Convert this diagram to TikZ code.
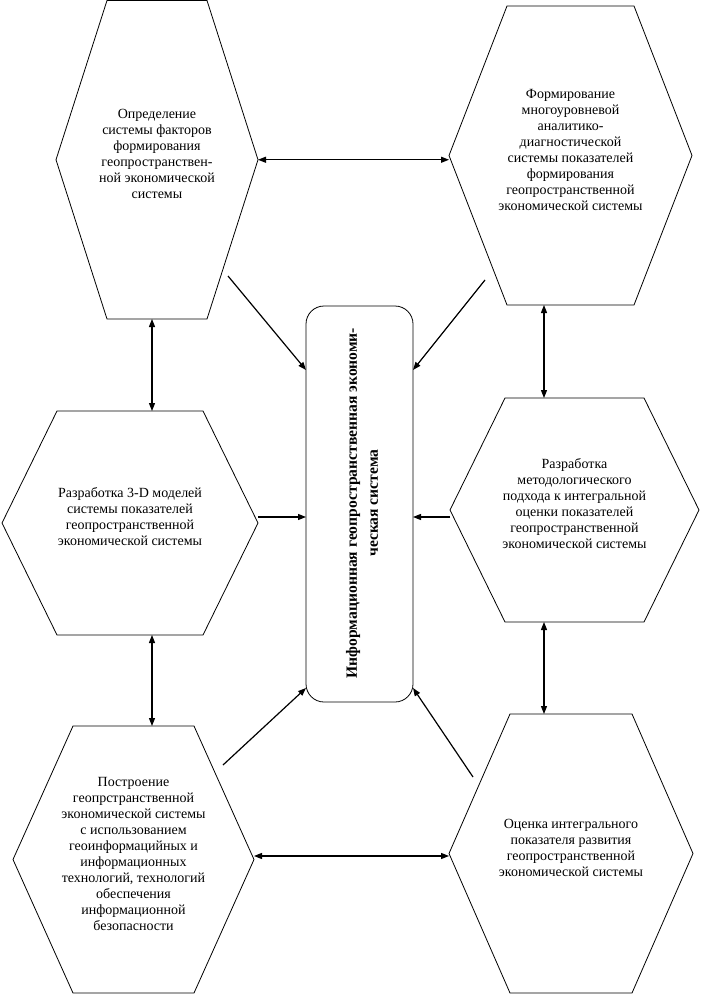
\documentclass[tikz,border=0pt]{standalone}
\usepackage{fontspec}
\setmainfont{Liberation Serif}
\usetikzlibrary{arrows.meta,fit,calc}
% name, left, top, right, bottom, inset, text
\newcommand\hexa[7]{%
  \node[frame, fit={(#2,#3) (#4,#5)}] (#1) {};
  \draw[hexline] (#2+#6,#3) -- (#4-#6,#3) -- (#4,{(#3+#5)/2}) -- (#4-#6,#5)
     -- (#2+#6,#5) -- (#2,{(#3+#5)/2}) -- cycle;
  \node[hextext] (#1t) at ({(#2+#4)/2},{(#3+#5)/2-6}) {#7};
}
\begin{document}
\begin{tikzpicture}[x=0.75pt,y=-0.75pt,
  hexline/.style={draw, line width=0.6pt},
  hextext/.style={align=center, font=\fontsize{10.5}{12}\selectfont, inner sep=0},
  frame/.style={inner sep=0, outer sep=0, draw=none},
  arr/.style={-{Triangle[length=6pt,width=4.5pt]}, line width=0.9pt},
  dbl/.style={{Triangle[length=6pt,width=4.5pt]}-{Triangle[length=6pt,width=4.5pt]}, line width=0.9pt},
  centerbox/.style={draw, line width=0.6pt, rounded corners=13.5pt, minimum width=80.25pt,
     minimum height=297pt, inner sep=0, outer sep=0},
  centertext/.style={rotate=90, align=center, inner sep=0,
     font=\bfseries\fontsize{11.7}{15.75}\selectfont}]
\useasboundingbox (0,0) rectangle (703,995);

\hexa{TL}{56}{0.5}{258}{319}{51}{Определение\\ системы факторов\\ формирования\\ геопространствен-\\ ной экономической\\ системы}
\hexa{TR}{449}{6}{692}{305}{58}{Формирование\\ многоуровневой\\ аналитико-\\ диагностической\\ системы показателей\\ формирования\\ геопространственной\\ экономической системы}
\hexa{ML}{2}{411}{258}{635}{55}{Разработка 3-D моделей\\ системы показателей\\ геопространственной\\ экономической системы}
\hexa{MR}{450}{398}{699}{622}{55}{Разработка\\ методологического\\ подхода к интегральной\\ оценки показателей\\ геопространственной\\ экономической системы}
\hexa{BL}{13}{726}{254}{993}{60}{Построение\\ геопрстранственной\\ экономической системы\\ с использованием\\ геоинформацийных и\\ информационных\\ технологий, технологий\\ обеспечения\\ информационной\\ безопасности}
\hexa{BR}{449}{714}{693}{993}{61}{Оценка интегрального\\ показателя развития\\ геопространственной\\ экономической системы}

\node[centerbox] (box) at (359.5,504) {};
\node[centertext] (boxt) at (362,503) {Информационная геопространственная экономи-\\ ческая система};

\coordinate (lcol) at (152,0);
\coordinate (rcol) at (544,0);
\coordinate (brow) at (0,856);
\coordinate (y370) at (0,370);
\coordinate (y517) at (0,517);
\coordinate (y688) at (0,688);
\coordinate (a1) at (228,276);
\coordinate (a2) at (485,280);
\coordinate (a3) at (223,765);
\coordinate (a4) at (473,777);

\draw[dbl] (TL.east) -- (TL.east -| TR.west);
\draw[dbl] (TL.south -| lcol) -- (ML.north -| lcol);
\draw[dbl] (ML.south -| lcol) -- (BL.north -| lcol);
\draw[dbl] (TR.south -| rcol) -- (MR.north -| rcol);
\draw[dbl] (MR.south -| rcol) -- (BR.north -| rcol);
\draw[dbl] (BL.east |- brow) -- (BR.west |- brow);

\draw[arr] (a1) -- (box.west |- y370);
\draw[arr] (a2) -- (box.east |- y370);
\draw[arr] (ML.east |- y517) -- (box.west |- y517);
\draw[arr] (MR.west |- y517) -- (box.east |- y517);
\draw[arr] (a3) -- (box.west |- y688);
\draw[arr] (a4) -- (box.east |- y688);
\end{tikzpicture}
\end{document}
